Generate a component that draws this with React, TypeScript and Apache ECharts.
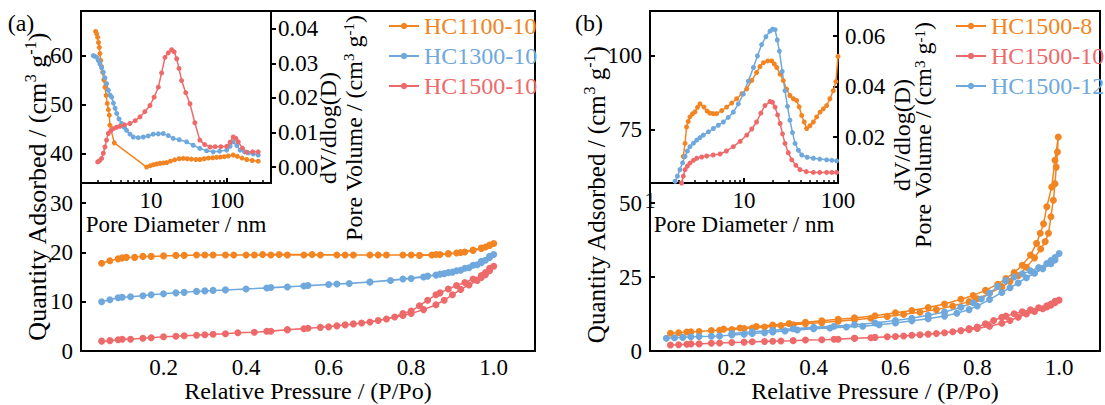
import { useEffect, useRef } from 'react';
import * as echarts from 'echarts';

type Pt = [number, number];

const ORANGE = '#F28522';
const BLUE = '#6FA8DC';
const RED = '#EE6A6A';
const FONT = 'Liberation Serif';

const NAMES_A = ['HC1100-10', 'HC1300-10', 'HC1500-10'];
const COLORS_A = [ORANGE, BLUE, RED];
const NAMES_B = ['HC1500-8', 'HC1500-10', 'HC1500-12'];
const COLORS_B = [ORANGE, RED, BLUE];

const MAIN_X_TICKS = [0.2, 0.4, 0.6, 0.8, 1.0];
const MAIN_A_Y_TICKS = [0, 10, 20, 30, 40, 50, 60];
const MAIN_B_Y_TICKS = [0, 25, 50, 75, 100];
const INSET_A_Y_TICKS = [0, 0.01, 0.02, 0.03, 0.04];
const INSET_B_Y_TICKS = [0.02, 0.04, 0.06];
const INSET_A_MINOR = [2, 3, 4, 5, 6, 7, 8, 9, 20, 30, 40, 50, 60, 70, 80, 90, 200, 300];
const INSET_B_MINOR = [2, 3, 4, 5, 6, 7, 8, 9, 20, 30, 40, 50, 60, 70, 80, 90];

// ---- Isotherms: [P/Po, quantity adsorbed] (adsorption then desorption) ----
const HC1100_10_ISO: Pt[] = [
  [0.05, 17.8], [0.07, 18.3], [0.09, 18.7], [0.1, 18.9], [0.11, 19.0], [0.13, 19.0], [0.15, 19.2], [0.17, 19.2],
  [0.2, 19.3], [0.23, 19.4], [0.25, 19.4], [0.28, 19.5], [0.3, 19.5], [0.32, 19.5], [0.35, 19.5], [0.37, 19.5],
  [0.4, 19.5], [0.42, 19.5], [0.46, 19.5], [0.5, 19.5], [0.54, 19.5], [0.58, 19.5], [0.62, 19.5], [0.66, 19.5],
  [0.7, 19.5], [0.74, 19.5], [0.78, 19.5], [0.82, 19.4], [0.85, 19.5], [0.87, 19.6], [0.89, 19.7], [0.91, 19.9],
  [0.93, 20.1], [0.95, 20.4], [0.97, 20.8], [0.98, 21.1], [0.99, 21.4], [1.0, 21.8],
  [0.99, 21.5], [0.97, 20.9], [0.95, 20.5], [0.92, 20.0], [0.89, 19.8], [0.86, 19.6], [0.8, 19.5], [0.72, 19.5],
  [0.64, 19.5], [0.56, 19.6], [0.48, 19.6], [0.44, 19.6],
];
const HC1300_10_ISO: Pt[] = [
  [0.05, 10.0], [0.07, 10.4], [0.09, 10.8], [0.1, 10.9], [0.12, 11.0], [0.15, 11.2], [0.17, 11.4], [0.2, 11.6],
  [0.23, 11.8], [0.25, 11.9], [0.28, 12.1], [0.3, 12.2], [0.32, 12.3], [0.35, 12.4], [0.4, 12.6], [0.45, 12.8],
  [0.5, 13.0], [0.55, 13.3], [0.6, 13.5], [0.65, 13.7], [0.7, 14.0], [0.75, 14.3], [0.8, 14.7], [0.83, 15.0],
  [0.86, 15.4], [0.88, 15.7], [0.9, 16.0], [0.92, 16.4], [0.94, 16.9], [0.96, 17.5], [0.97, 17.9], [0.98, 18.4],
  [0.99, 19.0], [1.0, 19.6],
  [0.99, 19.2], [0.97, 18.2], [0.95, 17.4], [0.93, 16.8], [0.91, 16.3], [0.89, 15.9], [0.87, 15.6], [0.84, 15.2],
  [0.78, 14.6], [0.7, 14.0], [0.62, 13.6], [0.54, 13.2], [0.46, 12.9],
];
const HC1500_10_ISO: Pt[] = [
  [0.05, 2.0], [0.07, 2.1], [0.09, 2.3], [0.1, 2.4], [0.12, 2.4], [0.15, 2.6], [0.17, 2.7], [0.2, 2.9],
  [0.23, 3.0], [0.25, 3.1], [0.28, 3.2], [0.3, 3.3], [0.32, 3.4], [0.35, 3.5], [0.38, 3.7], [0.42, 3.8],
  [0.46, 4.0], [0.5, 4.3], [0.54, 4.5], [0.58, 4.8], [0.62, 5.1], [0.66, 5.5], [0.7, 5.9], [0.74, 6.5],
  [0.78, 7.2], [0.8, 7.6], [0.83, 8.4], [0.86, 9.4], [0.88, 10.3], [0.9, 11.4], [0.92, 12.5], [0.94, 13.4],
  [0.96, 14.3], [0.97, 14.9], [0.98, 15.5], [0.99, 16.3], [1.0, 17.2],
  [0.99, 16.8], [0.98, 15.9], [0.97, 15.3], [0.95, 14.6], [0.93, 13.9], [0.91, 13.3], [0.89, 12.6], [0.87, 11.8],
  [0.86, 11.4], [0.84, 10.3], [0.82, 9.2], [0.8, 8.1], [0.78, 7.6], [0.76, 6.9], [0.72, 6.2], [0.68, 5.7],
  [0.64, 5.3], [0.6, 4.9], [0.55, 4.6], [0.5, 4.3], [0.45, 4.0],
];
const HC1500_8_ISO: Pt[] = [
  [0.05, 6.0], [0.07, 6.2], [0.09, 6.4], [0.1, 6.5], [0.12, 6.6], [0.15, 6.9], [0.17, 7.0], [0.2, 7.3],
  [0.23, 7.6], [0.25, 7.8], [0.28, 8.1], [0.3, 8.3], [0.32, 8.6], [0.35, 8.9], [0.38, 9.2], [0.42, 9.6],
  [0.46, 10.1], [0.5, 10.6], [0.54, 11.1], [0.58, 11.7], [0.62, 12.4], [0.66, 13.1], [0.7, 14.0], [0.74, 15.2],
  [0.78, 16.7], [0.8, 17.7], [0.83, 19.5], [0.86, 21.6], [0.88, 23.5], [0.9, 25.5], [0.92, 28.3], [0.94, 31.5],
  [0.955, 34.5], [0.966, 37.0], [0.974, 39.8], [0.98, 45.4], [0.986, 51.0], [0.99, 56.6], [0.993, 62.2],
  [0.996, 67.3], [0.998, 72.4],
  [0.99, 64.5], [0.982, 55.5], [0.97, 48.8], [0.962, 43.0], [0.954, 39.8], [0.945, 36.4], [0.93, 32.5],
  [0.91, 29.0], [0.89, 26.5], [0.87, 24.5], [0.85, 22.6], [0.82, 20.5], [0.79, 18.8], [0.76, 17.5], [0.72, 15.9],
  [0.68, 14.7], [0.64, 13.7], [0.6, 12.9], [0.55, 11.9], [0.5, 11.2], [0.46, 10.7], [0.42, 10.2], [0.38, 9.7],
  [0.34, 9.3], [0.3, 8.8], [0.26, 8.3], [0.22, 7.8], [0.18, 7.4],
];
const HC1500_12_ISO: Pt[] = [
  [0.04, 4.3], [0.06, 4.5], [0.08, 4.6], [0.1, 4.8], [0.12, 4.9], [0.15, 5.0], [0.17, 5.1], [0.2, 5.4],
  [0.23, 5.7], [0.25, 5.9], [0.28, 6.2], [0.3, 6.4], [0.33, 6.8], [0.36, 7.1], [0.4, 7.5], [0.44, 7.8],
  [0.48, 8.1], [0.52, 8.4], [0.56, 8.9], [0.6, 9.5], [0.64, 10.2], [0.68, 10.9], [0.72, 11.8], [0.75, 12.8],
  [0.78, 14.0], [0.8, 15.2], [0.83, 17.4], [0.86, 19.8], [0.88, 21.4], [0.9, 23.0], [0.92, 24.8], [0.94, 26.3],
  [0.96, 27.8], [0.98, 29.5], [0.99, 30.8], [1.0, 33.0],
  [0.99, 31.6], [0.98, 30.6], [0.97, 29.6], [0.95, 28.2], [0.93, 27.1], [0.91, 26.1], [0.89, 25.0], [0.87, 23.8],
  [0.85, 21.8], [0.83, 19.6], [0.81, 17.6], [0.79, 16.3], [0.76, 14.8], [0.72, 13.2], [0.68, 12.1], [0.64, 11.1],
  [0.6, 10.3], [0.55, 9.5], [0.5, 8.9], [0.45, 8.4], [0.4, 8.0], [0.35, 7.5], [0.3, 7.0], [0.25, 6.5], [0.2, 5.9],
];

// ---- Pore size distributions: [pore diameter nm, dV/dlog(D)] ----
const HC1100_10_PSD: Pt[] = [
  [1.87, 0.0392], [1.93, 0.0385], [1.99, 0.0375], [2.04, 0.036], [2.09, 0.0346], [2.13, 0.0328], [2.18, 0.0308],
  [2.24, 0.029], [2.31, 0.0274], [2.39, 0.0252], [2.48, 0.0231], [2.57, 0.0207], [2.66, 0.0184], [2.75, 0.0166],
  [2.83, 0.015], [2.88, 0.0121], [3.29, 0.007], [8.77, 0.0], [9.8, 0.0004], [10.8, 0.0007], [11.9, 0.0009],
  [13.2, 0.0011], [14.6, 0.0012], [16.1, 0.0013], [18.0, 0.0017], [20.5, 0.0021], [23.5, 0.0024], [26.6, 0.0025],
  [30, 0.0024], [34, 0.0023], [39, 0.0022], [44, 0.0022], [50, 0.0024], [57, 0.0026], [65, 0.0027], [73, 0.0028],
  [82, 0.0029], [92, 0.003], [104, 0.0032], [121, 0.0035], [137, 0.0031], [158, 0.0026], [182, 0.0022],
  [215, 0.0019], [258, 0.0017],
];
const HC1300_10_PSD: Pt[] = [
  [1.74, 0.0322], [1.83, 0.032], [1.93, 0.0317], [2.03, 0.0308], [2.13, 0.0298], [2.24, 0.0287], [2.36, 0.0274],
  [2.48, 0.0258], [2.61, 0.0241], [2.75, 0.0222], [2.9, 0.0208], [3.04, 0.0202], [3.2, 0.0185], [3.37, 0.017],
  [3.54, 0.0155], [3.8, 0.0139], [4.11, 0.0126], [4.45, 0.0115], [4.78, 0.0106], [5.3, 0.0095], [5.85, 0.0087],
  [6.8, 0.0085], [7.92, 0.0087], [9.2, 0.009], [10.7, 0.0095], [12.5, 0.0096], [14.5, 0.0097], [16.9, 0.0091],
  [19.6, 0.0083], [23.5, 0.0079], [29.4, 0.0073], [36, 0.0063], [44, 0.0054], [54, 0.0047], [66, 0.0044],
  [80, 0.0046], [99, 0.0049], [110, 0.006], [121, 0.0073], [135, 0.0062], [149, 0.0049], [170, 0.0044],
  [191, 0.0041], [222, 0.0038], [258, 0.0035],
];
const HC1500_10_PSD_A: Pt[] = [
  [1.99, 0.0015], [2.1, 0.0018], [2.24, 0.0025], [2.36, 0.004], [2.48, 0.0058], [2.6, 0.0078], [2.74, 0.0097],
  [2.95, 0.0105], [3.19, 0.0111], [3.52, 0.0115], [3.91, 0.0118], [4.5, 0.0122], [5.29, 0.0126], [6.2, 0.0134],
  [7.17, 0.0145], [8.3, 0.016], [9.7, 0.0178], [11, 0.0202], [12.5, 0.0231], [13.8, 0.0272], [15.3, 0.0317],
  [16.9, 0.033], [18.7, 0.0339], [20.2, 0.0333], [21.8, 0.0313], [23.4, 0.0285], [25.3, 0.025], [28.7, 0.0215],
  [32.6, 0.0183], [37.8, 0.0128], [44, 0.0078], [51, 0.0065], [60, 0.0058], [70, 0.0059], [83, 0.0059],
  [99, 0.006], [110, 0.0072], [121, 0.0087], [131, 0.0083], [141, 0.0073], [160, 0.0055], [182, 0.0043],
  [218, 0.0044], [258, 0.0044],
];
const HC1500_8_PSD: Pt[] = [
  [2.26, 0.0123], [2.36, 0.0175], [2.45, 0.024], [2.55, 0.0262], [2.66, 0.028], [2.83, 0.0292], [3.01, 0.03],
  [3.2, 0.0318], [3.4, 0.0332], [3.75, 0.0319], [4.05, 0.0303], [4.35, 0.0295], [4.7, 0.0293], [5.11, 0.0293],
  [5.8, 0.0305], [6.54, 0.0319], [7.4, 0.0335], [8.36, 0.0352], [9.5, 0.0372], [10.7, 0.0391], [12.1, 0.0425],
  [13.6, 0.0456], [14.8, 0.048], [16.1, 0.0495], [17.9, 0.0502], [19.7, 0.0502], [21, 0.049], [22.3, 0.0476],
  [24.2, 0.045], [26.2, 0.0424], [28.4, 0.039], [30.8, 0.0365], [33.5, 0.0352], [36.3, 0.0345], [38.6, 0.032],
  [41.1, 0.0286], [43.7, 0.026], [46.4, 0.0234], [50.3, 0.0245], [54.7, 0.026], [59.3, 0.028], [64.4, 0.0299],
  [69.8, 0.0312], [75.7, 0.0325], [82, 0.0352], [89.1, 0.0384], [95, 0.042], [100, 0.052],
];
const HC1500_10_PSD_B: Pt[] = [
  [2.17, 0.0018], [2.26, 0.0045], [2.36, 0.0071], [2.5, 0.0085], [2.66, 0.0097], [2.9, 0.0108], [3.14, 0.0116],
  [3.55, 0.0121], [4.01, 0.0125], [4.7, 0.0129], [5.56, 0.0133], [6.5, 0.0145], [7.7, 0.0162], [9.1, 0.0183],
  [10.7, 0.0208], [12.1, 0.0232], [13.6, 0.026], [15.1, 0.0295], [16.7, 0.0325], [18.9, 0.0341], [20.1, 0.0338],
  [21.4, 0.0319], [22.8, 0.0288], [24.2, 0.0254], [25.7, 0.0213], [27.3, 0.0175], [29.6, 0.0138], [32.2, 0.011],
  [35.6, 0.0088], [39.4, 0.0071], [46, 0.0063], [54.7, 0.006], [64, 0.006], [75.7, 0.006], [86, 0.006],
  [96.7, 0.006],
];
const HC1500_12_PSD: Pt[] = [
  [1.85, 0.0025], [1.96, 0.0045], [2.08, 0.0071], [2.22, 0.0098], [2.36, 0.0123], [2.5, 0.0145], [2.66, 0.0162],
  [2.9, 0.0176], [3.14, 0.0188], [3.4, 0.0198], [3.69, 0.0208], [4.18, 0.0221], [4.72, 0.0234], [5.33, 0.0247],
  [6.03, 0.026], [6.8, 0.0278], [7.7, 0.0299], [8.7, 0.0332], [9.84, 0.0371], [11.1, 0.0422], [12.6, 0.0476],
  [13.9, 0.0522], [15.4, 0.0567], [17.1, 0.0598], [18.9, 0.062], [20.1, 0.0628], [21.4, 0.0626], [22.6, 0.0585],
  [23.8, 0.0541], [25.5, 0.046], [27.3, 0.0384], [29, 0.0322], [30.8, 0.0267], [32.8, 0.0218], [34.9, 0.0175],
  [37.9, 0.0148], [41.1, 0.0129], [47, 0.012], [54.7, 0.0116], [64, 0.0113], [75.7, 0.011], [86, 0.0108],
  [96.7, 0.0106],
];

const ISO_A = [HC1100_10_ISO, HC1300_10_ISO, HC1500_10_ISO];
const PSD_A = [HC1100_10_PSD, HC1300_10_PSD, HC1500_10_PSD_A];
const ISO_B = [HC1500_8_ISO, HC1500_10_ISO, HC1500_12_ISO];
const PSD_B = [HC1500_8_PSD, HC1500_10_PSD_B, HC1500_12_PSD];

const X_TITLE = 'Relative Pressure / (P/Po)';

const FS = 23;
const black = '#000';
const tickLine = { color: black, width: 2 };
const label = { color: black, fontFamily: FONT, fontSize: FS };
const nameStyle = { color: black, fontFamily: FONT, fontSize: 23 };

function lineSeries(name: string, data: Pt[], color: string, xi: number, yi: number, size: number, z: number) {
  return {
    type: 'line', name, data, xAxisIndex: xi, yAxisIndex: yi,
    symbol: 'circle', symbolSize: size, showSymbol: true,
    lineStyle: { color, width: 1.5 }, itemStyle: { color },
    z, animation: false,
  };
}

function mainX(gridIndex: number) {
  return {
    type: 'value', gridIndex, min: 0, max: 1.1, position: 'bottom',
    axisLine: { show: false, onZero: false },
    axisTick: { show: false },
    splitLine: { show: false },
    axisLabel: { ...label, margin: 5, lineHeight: 22, customValues: MAIN_X_TICKS, formatter: (v: number) => v.toFixed(1) },
  };
}

function insetLogX(gridIndex: number, min: number, max: number, hideEnds: boolean) {
  return {
    type: 'log', logBase: 10, gridIndex, min, max, position: 'bottom', z: 6,
    axisLine: { show: false, onZero: false },
    axisTick: { show: true, inside: true, length: 5, lineStyle: tickLine },
    minorTick: { show: false },
    splitLine: { show: false },
    axisLabel: { ...label, margin: 6, showMinLabel: !hideEnds, showMaxLabel: !hideEnds },
    name: 'Pore Diameter / nm', nameLocation: 'middle', nameGap: 27, nameTextStyle: nameStyle,
  };
}

function minorOverlay(gridIndex: number, min: number, max: number, values: number[]) {
  return {
    type: 'value', gridIndex, position: 'bottom', min: Math.log10(min), max: Math.log10(max), z: 6,
    axisLine: { show: false, onZero: false },
    axisLabel: { show: false },
    splitLine: { show: false },
    axisTick: { show: true, inside: true, length: 3, customValues: values.map((v) => Math.log10(v)), lineStyle: { color: black, width: 1.5 } },
  };
}

function richSet(fs: number, lh: number) {
  return {
    t: { fontSize: fs, fontFamily: FONT, fill: black, lineHeight: lh },
    s: { fontSize: Math.round(fs * 0.62), fontFamily: FONT, fill: black, lineHeight: Math.round(fs * 0.66), verticalAlign: 'top' },
  };
}
const Y_TITLE = '{t|Quantity Adsorbed / (cm}{s|3}{t| g}{s|-1}{t|)}';
const PV_TITLE = '{t|dV/dlog(D)}\n{t|Pore Volume / (cm}{s|3}{t| g}{s|-1}{t|)}';

function titleText(x: number, y: number, text: string, fs: number, lh: number) {
  return {
    type: 'text', x, y, rotation: Math.PI / 2, z: 20,
    style: { text, align: 'center', verticalAlign: 'middle', fontFamily: FONT, rich: richSet(fs, lh) },
  };
}

function plainText(x: number, y: number, text: string, fs: number) {
  return {
    type: 'text', x, y, z: 20,
    style: { text, fontFamily: FONT, fontSize: fs, lineHeight: 22, fill: black, align: 'center', verticalAlign: 'middle' },
  };
}

export default function App() {
  const ref = useRef<HTMLDivElement>(null);
  useEffect(() => {
    if (!ref.current) return;
    const chart = echarts.init(ref.current, null, { renderer: 'svg' });
    const gridBase = { show: true, borderColor: black, borderWidth: 2, outerBoundsMode: 'none', containLabel: false };
    const legendBase = {
      orient: 'vertical', itemWidth: 30, itemHeight: 8, itemGap: 6, selectedMode: false, top: 9,
      textStyle: { fontFamily: FONT, fontSize: 24 },
    };
    const option: any = {
      animation: false,
      backgroundColor: '#fff',
      textStyle: { fontFamily: FONT, color: black },
      grid: [
        { ...gridBase, left: 81, top: 11, width: 454, height: 340, backgroundColor: 'transparent', z: 0 },
        { ...gridBase, left: 81, top: 11, width: 190, height: 172, backgroundColor: '#fff', z: 5 },
        { ...gridBase, left: 650, top: 11, width: 450, height: 340, backgroundColor: 'transparent', z: 0 },
        { ...gridBase, left: 650, top: 11, width: 188, height: 172, backgroundColor: '#fff', z: 5 },
      ],
      xAxis: [
        mainX(0),
        insetLogX(1, 1.2, 380, true),
        minorOverlay(1, 1.2, 380, INSET_A_MINOR),
        mainX(2),
        insetLogX(3, 1, 100, false),
        minorOverlay(3, 1, 100, INSET_B_MINOR),
      ],
      yAxis: [
        {
          type: 'value', gridIndex: 0, min: 0, max: 69, z: 8,
          axisLine: { show: false, onZero: false },
          axisTick: { show: true, inside: true, length: 5, customValues: MAIN_A_Y_TICKS, lineStyle: tickLine },
          axisLabel: { ...label, margin: 8, customValues: MAIN_A_Y_TICKS },
          splitLine: { show: false },
        },
        {
          type: 'value', gridIndex: 1, position: 'right', min: -0.0046, max: 0.0451, z: 6,
          axisLine: { show: false, onZero: false },
          axisTick: { show: true, inside: false, length: 5, customValues: INSET_A_Y_TICKS, lineStyle: tickLine },
          axisLabel: { ...label, margin: 7, customValues: INSET_A_Y_TICKS, formatter: (v: number) => v.toFixed(2) },
          splitLine: { show: false },
        },
        {
          type: 'value', gridIndex: 2, min: 0, max: 115, z: 8,
          axisLine: { show: false, onZero: false },
          axisTick: { show: true, inside: true, length: 5, customValues: MAIN_B_Y_TICKS, lineStyle: tickLine },
          axisLabel: { ...label, margin: 8, customValues: MAIN_B_Y_TICKS },
          splitLine: { show: false },
        },
        {
          type: 'value', gridIndex: 3, position: 'right', min: 0.0018, max: 0.07, z: 6,
          axisLine: { show: false, onZero: false },
          axisTick: { show: true, inside: true, length: 5, customValues: INSET_B_Y_TICKS, lineStyle: tickLine },
          axisLabel: { ...label, margin: 7, customValues: INSET_B_Y_TICKS, formatter: (v: number) => v.toFixed(2) },
          splitLine: { show: false },
        },
      ],
      legend: [
        {
          ...legendBase, left: 383,
          data: NAMES_A.map((n, i) => ({ name: n, textStyle: { color: COLORS_A[i], fontFamily: FONT, fontSize: 24 } })),
        },
        {
          ...legendBase, left: 950,
          data: NAMES_B.map((n, i) => ({ name: n, textStyle: { color: COLORS_B[i], fontFamily: FONT, fontSize: 24 } })),
        },
      ],
      series: [
        ...NAMES_A.map((n, i) => lineSeries(n, ISO_A[i], COLORS_A[i], 0, 0, 7, 2)),
        ...NAMES_A.map((n, i) => lineSeries(n, PSD_A[i], COLORS_A[i], 1, 1, 5, 7)),
        ...NAMES_B.map((n, i) => lineSeries(n, ISO_B[i], COLORS_B[i], 3, 2, 7, 2)),
        ...NAMES_B.map((n, i) => lineSeries(n, PSD_B[i], COLORS_B[i], 4, 3, 5, 7)),
      ],
      graphic: [
        plainText(21, 23, '(a)', 24),
        plainText(589, 23, '(b)', 24),
        plainText(308, 391, X_TITLE, 24),
        plainText(875, 391, X_TITLE, 24),
        titleText(37, 187, Y_TITLE, 26, 30),
        titleText(596, 195, Y_TITLE, 25, 30),
        titleText(341, 128, PV_TITLE, 24, 26),
        titleText(912, 135, PV_TITLE, 24, 21),
      ],
    };
    chart.setOption(option);
    return () => chart.dispose();
  }, []);
  return <div ref={ref} style={{ position: 'absolute', left: 0, top: 0, width: 1105, height: 405 }} />;
}
